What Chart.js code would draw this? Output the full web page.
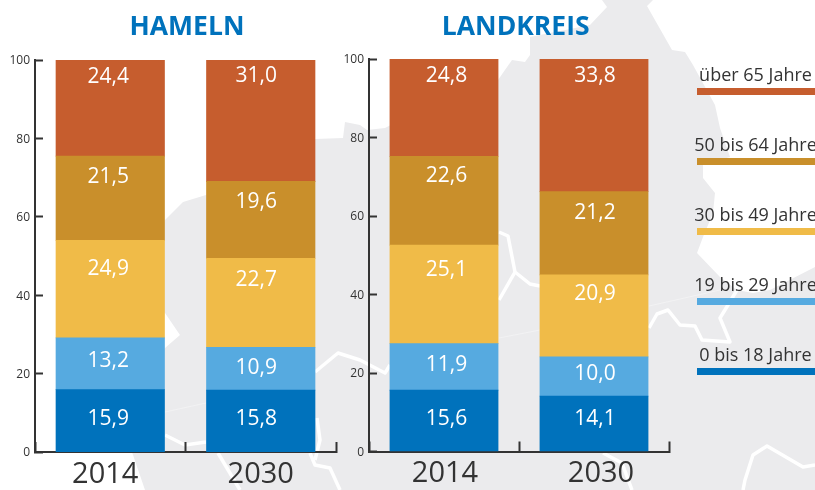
<!DOCTYPE html>
<html lang="de">
<head>
<meta charset="utf-8">
<title>Altersstruktur Hameln und Landkreis</title>
<script src="https://cdn.jsdelivr.net/npm/chart.js@4"></script>
<style>
html,body{margin:0;padding:0;background:#fff;overflow:hidden;width:815px;height:490px}
#page{position:relative;width:815px;height:490px;overflow:hidden;font-family:"Open Sans",sans-serif}
#map{position:absolute;left:0;top:0}
canvas{position:absolute;top:0}
.lg{position:absolute;left:650px;width:211px;text-align:center;font-size:18px;line-height:24px;color:#333;white-space:nowrap}
.lb{position:absolute;left:697px;width:118px;height:7px}
</style>
</head>
<body>
<div id="page">
<svg id="map" width="815" height="490" viewBox="0 0 815 490">
  <path fill="#EBEBED" d="M145 490 L132 452 L120 400 L165 348 L180 335 L165 313 L130 290 L165 220 L183 202 L206 195 L260 150 L315 139 L343 138 L345 122 L360 125 L367 130 L385 128 L420 110 L498 80 L512 60 L525 62 L530 55 L530 37 L590 25 L607 7 L602 0 L653 0 L647 6 L672 50 L685 52 L693 65 L715 105 L720 128 L730 157 L703 165 L703 178 L715 193 L713 213 L703 237 L697 253 L720 277 L737 290 L753 293 L770 290 L815 267 L815 490 Z"/>
  <g fill="none" stroke="#fff" stroke-width="3.5" stroke-linejoin="round">
    <path d="M165 435 L185 445 L206 442"/>
    <path d="M218 453 L240 490"/>
    <path d="M317 418 L320 440 L315 460"/>
    <path d="M310 453 L315 465 L330 468 L340 490"/>
    <path d="M315 372 L338 353 L360 360 L385 373 L390 365"/>
    <path d="M499 232 L508 236 L515 272 L530 284 L540 286"/>
    <path d="M515 272 L499 300"/>
    <path d="M649 328 L657 314 L668 310 L680 325 L695 326 L702 340 L730 342 L720 318 L728 305 L737 290"/>
    <path d="M743 490 L745 480 L753 455 L767 446 L803 467 L815 465"/>
    <path d="M603 453 L622 463 L632 490"/>
  </g>
  <g fill="none" stroke="#fff" stroke-width="0.7" opacity="0.5">
    <path d="M165 412 L206 403"/>
    <path d="M499 338 L540 330"/>
    <path d="M649 306 L720 290"/>
  </g>
</svg>
<canvas id="c1" width="374" height="490" style="left:0;width:374px;height:490px"></canvas>
<canvas id="c2" width="351" height="490" style="left:340px;width:351px;height:490px"></canvas>
</div>
<script>
// ---- data ----
const years = ['2014', '2030'];
const ageGroups = ['0 bis 18 Jahre', '19 bis 29 Jahre', '30 bis 49 Jahre', '50 bis 64 Jahre', 'über 65 Jahre'];
const seriesColors = ['#0072BC', '#56AAE0', '#F0BB48', '#C98F2B', '#C65D2E'];
const hameln0to18 = [15.9, 15.8];
const hameln19to29 = [13.2, 10.9];
const hameln30to49 = [24.9, 22.7];
const hameln50to64 = [21.5, 19.6];
const hameln65plus = [24.4, 31.0];
const landkreis0to18 = [15.6, 14.1];
const landkreis19to29 = [11.9, 10.0];
const landkreis30to49 = [25.1, 20.9];
const landkreis50to64 = [22.6, 21.2];
const landkreis65plus = [24.8, 33.8];
const yTicks = [0, 20, 40, 60, 80, 100];

// ---- label placement (px below the top of each segment, one row per series) ----
const hamelnLabelDrop = [[29.5, 28.5], [23.5, 20.5], [28.5, 21.5], [20.5, 20.5], [16.5, 16.5]];
const landkreisLabelDrop = [[28.5, 22.5], [21.5, 17.5], [24.5, 19.5], [19.5, 21.5], [17.5, 17.5]];

const FONT = '"Open Sans", sans-serif';
const INK = '#333333';

const valueLabels = {
  id: 'valueLabels',
  afterDatasetsDraw(chart, args, opts) {
    const ctx = chart.ctx;
    ctx.save();
    ctx.fillStyle = '#fff';
    ctx.font = '400 21px ' + FONT;
    ctx.textAlign = 'center';
    ctx.textBaseline = 'middle';
    chart.data.datasets.forEach((ds, i) => {
      chart.getDatasetMeta(i).data.forEach((bar, j) => {
        const txt = ds.data[j].toFixed(1).replace('.', ',');
        ctx.fillText(txt, bar.x + opts.dx[j], bar.y + opts.drop[i][j]);
      });
    });
    ctx.restore();
  }
};

const nudgeLabels = {
  id: 'nudgeLabels',
  afterLayout(chart, args, opts) {
    chart.titleBlock.left = opts.titleCenter - 100;
    chart.titleBlock.right = opts.titleCenter + 100;
  },
  beforeDraw(chart, args, opts) {
    chart.scales.x.getLabelItems(chart.chartArea).forEach((it, k) => {
      if (!it.shifted) { it.options.translation[0] += opts.yearDx[k]; it.shifted = true; }
    });
    chart.scales.y.getLabelItems(chart.chartArea).forEach(it => {
      if (!it.shifted) { it.options.translation[1] += 1; it.shifted = true; }
    });
  }
};

function makeChart(id, title, cols, cfg) {
  return new Chart(document.getElementById(id), {
    type: 'bar',
    data: {
      labels: years,
      datasets: ageGroups.map((g, i) => ({
        label: g, data: cols[i], backgroundColor: seriesColors[i], borderWidth: 0,
        inflateAmount: 0.4, categoryPercentage: 1, barPercentage: 0.72
      }))
    },
    plugins: [valueLabels, nudgeLabels],
    options: {
      responsive: false,
      animation: false,
      layout: { padding: { left: 0, right: cfg.right, top: 0, bottom: 0 } },
      plugins: {
        legend: { display: false },
        tooltip: { enabled: false },
        title: {
          display: true, text: title, color: '#0072BC',
          font: { family: FONT, size: 26.5, weight: '700', lineHeight: 1.2 },
          padding: { top: 12, bottom: cfg.top - 12 - 31.8 }
        },
        valueLabels: { dx: cfg.labelDx, drop: cfg.drop },
        nudgeLabels: { yearDx: cfg.yearDx, titleCenter: cfg.titleCenter }
      },
      scales: {
        x: {
          stacked: true,
          afterFit: s => { s.height = 490 - cfg.bottom; },
          border: { color: INK, width: 2 },
          grid: { offset: true, drawOnChartArea: false, color: INK, tickColor: INK, tickLength: -10, tickWidth: 2 },
          ticks: { color: INK, font: { family: FONT, size: 29, lineHeight: 1.2 }, padding: 15, maxRotation: 0 }
        },
        y: {
          stacked: true, min: 0, max: 100,
          afterFit: s => { s.width = cfg.left; },
          afterBuildTicks: s => { s.ticks = yTicks.map(v => ({ value: v })); },
          border: { color: INK, width: 2 },
          grid: { drawOnChartArea: false, color: INK, tickColor: INK, tickLength: -8, tickWidth: 2 },
          ticks: { color: INK, font: { family: FONT, size: 12 }, padding: 13 }
        }
      }
    }
  });
}

makeChart('c1', 'HAMELN', [hameln0to18, hameln19to29, hameln30to49, hameln50to64, hameln65plus], {
  left: 35, right: 38, top: 60, bottom: 452, titleCenter: 187,
  labelDx: [-2, -4.5], yearDx: [-5, 0], drop: hamelnLabelDrop
});
makeChart('c2', 'LANDKREIS', [landkreis0to18, landkreis19to29, landkreis30to49, landkreis50to64, landkreis65plus], {
  left: 29, right: 22, top: 59, bottom: 451.5, titleCenter: 175.7,
  labelDx: [2.5, 1], yearDx: [1, 7], drop: landkreisLabelDrop
});

// ---- legend, top row is the oldest group ----
const legendBarTops = [368, 298, 228, 158, 88];
const page = document.getElementById('page');
ageGroups.forEach((g, i) => {
  const t = document.createElement('div');
  t.className = 'lg';
  t.textContent = g;
  t.style.top = (legendBarTops[i] - 26) + 'px';
  page.appendChild(t);
  const b = document.createElement('div');
  b.className = 'lb';
  b.style.top = legendBarTops[i] + 'px';
  b.style.background = seriesColors[i];
  page.appendChild(b);
});
</script>
</body>
</html>
